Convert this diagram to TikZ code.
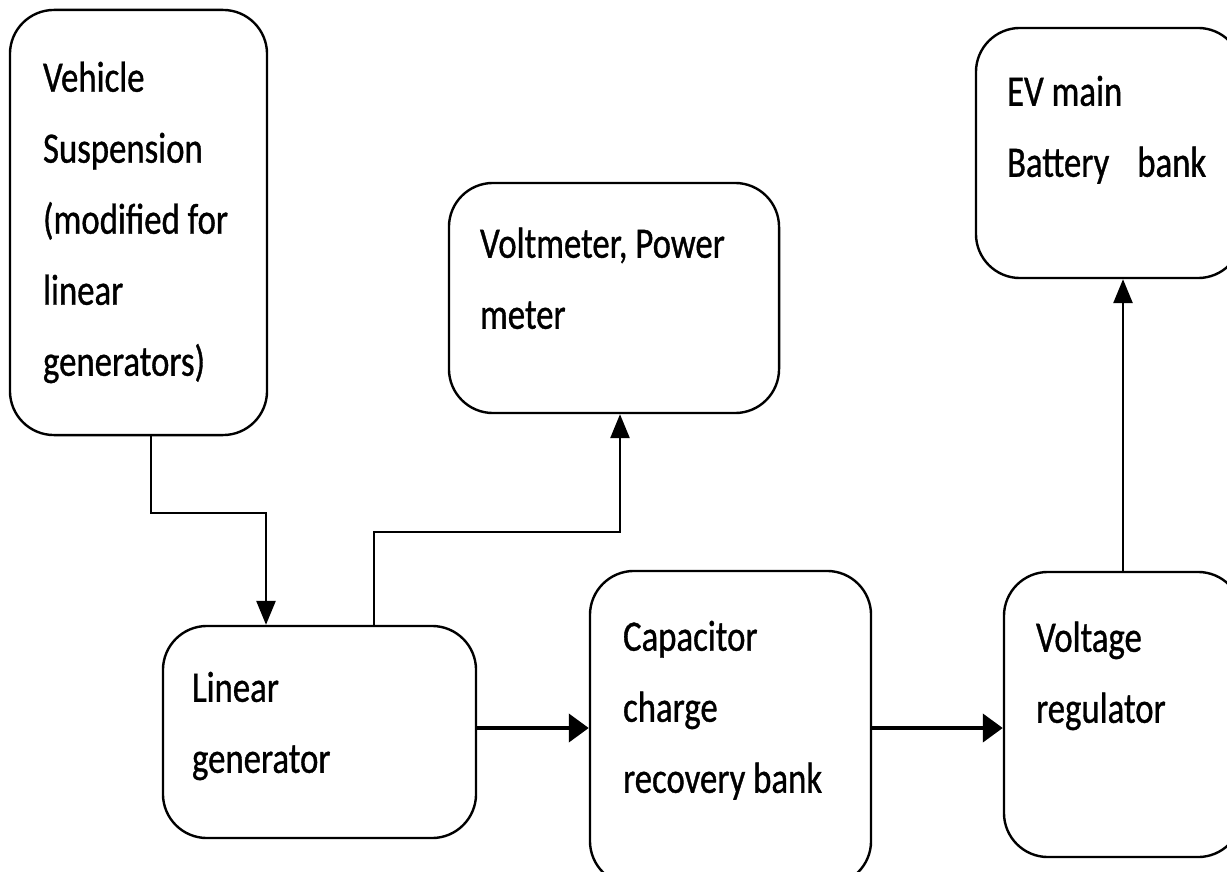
\documentclass[tikz,border=0pt]{standalone}
\usepackage{fontspec}
\newfontfamily\boxfont[FakeStretch=0.80,FakeBold=0.8]{Carlito}
\usetikzlibrary{arrows.meta}

\begin{document}
\begin{tikzpicture}[x=0.025cm,y=-0.025cm,
		blk/.style={draw, line width=1.7pt, rounded corners=1.1cm, inner sep=0pt},
		lbl/.style={anchor=base west, align=left, inner sep=0pt, font=\boxfont\fontsize{30.9}{50.5}\selectfont},
		conn/.style={line width=1.5pt, -{Triangle[length=0.6cm,width=0.48cm]}},
		bus/.style={line width=3pt, -{Triangle[length=0.5cm,width=0.7cm]}}]
	\useasboundingbox (0,0) rectangle (1227,872);
	% blocks
	\node[blk, minimum width=6.425cm, minimum height=10.625cm] (susp) at (138.5,222.5) {};
	\node[blk, minimum width=8.25cm, minimum height=5.75cm] (volt) at (614,298) {};
	\node[blk, minimum width=6.65cm, minimum height=6.25cm] (batt) at (1109,153) {};
	\node[blk, minimum width=7.825cm, minimum height=5.3cm] (lingen) at (319.5,732) {};
	\node[blk, minimum width=7.025cm, minimum height=7.85cm] (cap) at (730.5,728) {};
	\node[blk, minimum width=5.95cm, minimum height=7.125cm] (vreg) at (1123,714.5) {};
	% labels (base = last line)
	\node[lbl] (susp-txt) at ([shift={(34,367)}]susp.north west) {Vehicle\\Suspension\\(modified for\\linear\\generators)};
	\node[lbl] (volt-txt) at ([shift={(32,147)}]volt.north west) {Voltmeter, Power\\meter};
	\node[lbl] (batt-txt) at ([shift={(32,150)}]batt.north west) {EV main\\Battery\hspace{0.7cm}bank};
	\node[lbl] (lingen-txt) at ([shift={(30,148)}]lingen.north west) {Linear\\generator};
	\node[lbl] (cap-txt) at ([shift={(34,223)}]cap.north west) {Capacitor\\charge\\recovery bank};
	\node[lbl] (vreg-txt) at ([shift={(33,152)}]vreg.north west) {Voltage\\regulator};
	% connectors
	\coordinate (s1) at (151,513);
	\coordinate (s2) at (266,513);
	\coordinate (m1) at (374,532);
	\coordinate (m2) at (620,532);
	\draw[conn] (susp.south -| s1) -- (s1) -- (s2) -- (lingen.north -| s2);
	\draw[conn] (lingen.north -| m1) -- (m1) -- (m2) -- (volt.south -| m2);
	\draw[bus] (cap.west -| lingen.east) -- (cap.west);
	\draw[bus] (cap.east) -- (cap.east -| vreg.west);
	\draw[conn] (vreg.north) -- (vreg.north |- batt.south);
\end{tikzpicture}
\end{document}
